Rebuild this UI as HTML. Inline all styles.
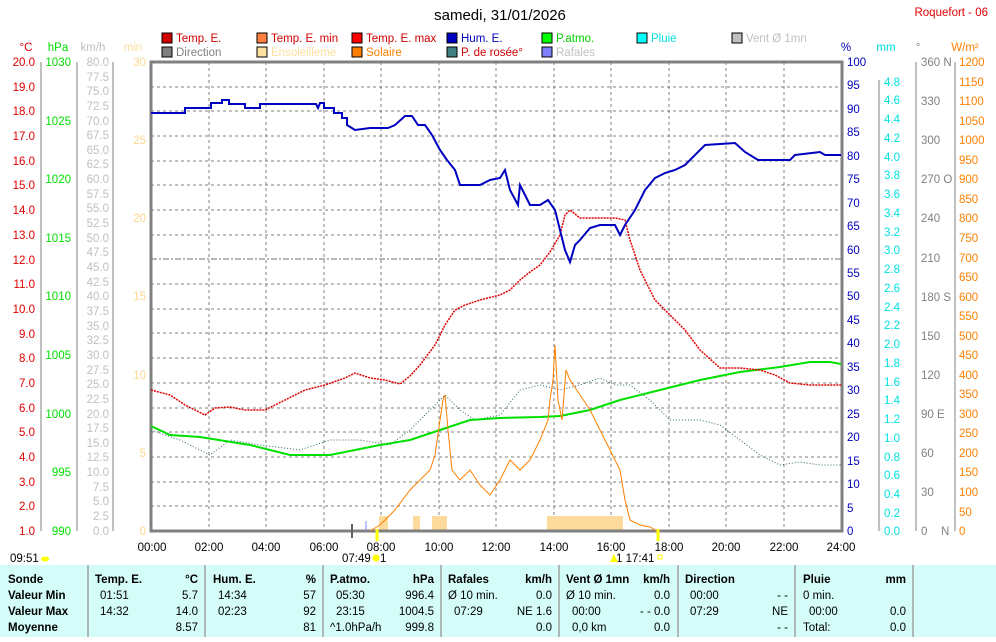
<!DOCTYPE html>
<html><head><meta charset="utf-8"><style>
body{margin:0;background:#fff;width:996px;height:637px;overflow:hidden;font-family:"Liberation Sans",sans-serif}
svg text{font-family:"Liberation Sans",sans-serif}
</style></head><body>
<svg width="996" height="637" xmlns="http://www.w3.org/2000/svg" font-size="11.5">
<text x="500" y="20" font-size="15" text-anchor="middle">samedi, 31/01/2026</text>
<text x="988" y="16" font-size="11.5" fill="#e00000" text-anchor="end">Roquefort - 06</text>
<g font-size="11.5">
<rect x="162" y="33" width="10" height="10" fill="#d00000" stroke="#000"/><text x="176" y="42" fill="#d00000">Temp. E.</text>
<rect x="257" y="33" width="10" height="10" fill="#ff8040" stroke="#000"/><text x="271" y="42" fill="#d00000">Temp. E. min</text>
<rect x="352" y="33" width="10" height="10" fill="#ff0000" stroke="#000"/><text x="366" y="42" fill="#d00000">Temp. E. max</text>
<rect x="447" y="33" width="10" height="10" fill="#0000c0" stroke="#000"/><text x="461" y="42" fill="#0000c0">Hum. E.</text>
<rect x="542" y="33" width="10" height="10" fill="#00ff00" stroke="#000"/><text x="556" y="42" fill="#00d000">P.atmo.</text>
<rect x="637" y="33" width="10" height="10" fill="#00ffff" stroke="#000"/><text x="651" y="42" fill="#00e0e0">Pluie</text>
<rect x="732" y="33" width="10" height="10" fill="#c0c0c0" stroke="#000"/><text x="746" y="42" fill="#c0c0c0">Vent Ø 1mn</text>
<rect x="162" y="47" width="10" height="10" fill="#808080" stroke="#000"/><text x="176" y="56" fill="#808080">Direction</text>
<rect x="257" y="47" width="10" height="10" fill="#fde0a0" stroke="#000"/><text x="271" y="56" fill="#fde0a0">Ensoleilleme</text>
<rect x="352" y="47" width="10" height="10" fill="#ff8000" stroke="#000"/><text x="366" y="56" fill="#ff8000">Solaire</text>
<rect x="447" y="47" width="10" height="10" fill="#408080" stroke="#000"/><text x="461" y="56" fill="#d00000">P. de rosée°</text>
<rect x="542" y="47" width="10" height="10" fill="#8080ff" stroke="#000"/><text x="556" y="56" fill="#c0c0c0">Rafales</text>
</g>
<text x="26" y="51" fill="#e00000" text-anchor="middle">°C</text>
<text x="58" y="51" fill="#00e000" text-anchor="middle">hPa</text>
<text x="93" y="51" fill="#c0c0c0" text-anchor="middle">km/h</text>
<text x="133" y="51" fill="#fde0a0" text-anchor="middle">min</text>
<text x="846" y="51" fill="#0000c0" text-anchor="middle">%</text>
<text x="886" y="51" fill="#00e0e0" text-anchor="middle">mm</text>
<text x="918" y="51" fill="#808080" text-anchor="middle">°</text>
<text x="965" y="51" fill="#ff8000" text-anchor="middle">W/m²</text>
<g stroke="#808080" stroke-width="1" stroke-dasharray="3,3">
<line x1="209" y1="62" x2="209" y2="531"/><line x1="266" y1="62" x2="266" y2="531"/><line x1="324" y1="62" x2="324" y2="531"/><line x1="381" y1="62" x2="381" y2="531"/><line x1="439" y1="62" x2="439" y2="531"/><line x1="496" y1="62" x2="496" y2="531"/><line x1="554" y1="62" x2="554" y2="531"/><line x1="611" y1="62" x2="611" y2="531"/><line x1="669" y1="62" x2="669" y2="531"/><line x1="726" y1="62" x2="726" y2="531"/><line x1="784" y1="62" x2="784" y2="531"/>
<line x1="151" y1="87" x2="841" y2="87"/><line x1="151" y1="111" x2="841" y2="111"/><line x1="151" y1="136" x2="841" y2="136"/><line x1="151" y1="161" x2="841" y2="161"/><line x1="151" y1="185" x2="841" y2="185"/><line x1="151" y1="210" x2="841" y2="210"/><line x1="151" y1="235" x2="841" y2="235"/><line x1="151" y1="284" x2="841" y2="284"/><line x1="151" y1="309" x2="841" y2="309"/><line x1="151" y1="333" x2="841" y2="333"/><line x1="151" y1="358" x2="841" y2="358"/><line x1="151" y1="383" x2="841" y2="383"/><line x1="151" y1="408" x2="841" y2="408"/><line x1="151" y1="432" x2="841" y2="432"/><line x1="151" y1="457" x2="841" y2="457"/><line x1="151" y1="482" x2="841" y2="482"/><line x1="151" y1="506" x2="841" y2="506"/>
</g>
<line x1="151" y1="259" x2="841" y2="259" stroke="#707070" stroke-dasharray="6,2,2,2"/>
<g fill="#fddb9c"><rect x="379" y="516" width="9" height="15"/><rect x="413" y="516" width="7" height="15"/><rect x="432" y="516" width="15" height="15"/><rect x="547" y="516" width="76" height="15"/></g>
<path d="M151,531 V62 H842 V531 Z" fill="none" stroke="#808080" stroke-width="3"/>
<polyline fill="none" stroke="#306868" stroke-width="1" stroke-dasharray="1,2" points="151,430 180,440 210,455 230,440 260,445 300,450 330,440 360,440 390,445 410,430 430,410 445,395 460,410 475,420 500,415 520,390 540,385 560,390 580,385 600,378 615,385 630,385 650,400 670,420 700,420 720,425 740,440 760,455 780,465 800,462 820,465 841,465"/>
<polyline fill="none" stroke="#00e000" stroke-width="2" points="151,426 170,435 200,437 250,445 290,455 330,455 380,445 410,440 440,430 470,420 500,418 540,417 560,416 590,410 620,400 660,390 700,380 740,372 780,367 810,362 830,362 841,364"/>
<polyline fill="none" stroke="#ff8000" stroke-width="1" points="370,531 380,525 395,510 410,490 420,480 430,470 435,455 440,420 443,400 445,395 448,430 452,470 460,480 470,470 480,485 490,495 500,480 510,460 520,470 530,460 540,440 548,420 550,400 553,380 555,345 558,400 562,420 566,370 570,380 580,395 590,410 600,430 610,450 620,470 625,500 630,520 640,525 650,527 657,531"/>
<polyline fill="none" stroke="#e00000" stroke-width="1.5" stroke-dasharray="2,1" points="151,390 170,395 185,405 205,415 215,408 230,407 245,410 265,410 285,400 305,390 325,385 345,378 355,373 370,378 385,380 400,384 410,376 420,365 435,345 445,325 455,310 465,305 480,300 500,295 510,290 520,280 530,272 540,265 550,252 560,235 565,215 570,210 580,218 600,218 615,218 625,220 630,240 640,270 655,300 670,315 685,330 700,350 720,368 740,368 760,370 775,375 790,383 810,385 841,385"/>
<polyline fill="none" stroke="#0000c0" stroke-width="2" points="151,113 185,113 185,108 211,108 211,103 222,103 222,100 229,100 229,104 245,104 245,108 260,108 260,104 316,104 318,108 320,103 324,103 324,108 334,108 334,113 342,113 342,118 347,118 347,125 355,130 370,128 388,128 395,125 405,116 412,116 418,125 425,125 432,135 440,150 447,160 455,170 460,185 470,185 480,185 490,180 500,178 505,170 510,190 518,205 520,185 525,195 530,205 540,205 548,200 555,210 560,230 565,250 570,262 575,245 580,240 590,228 600,225 615,225 620,235 625,225 635,210 645,190 655,178 665,173 675,170 685,165 695,155 705,145 735,143 745,152 758,160 790,160 795,155 820,152 825,155 841,155"/>
<line x1="352" y1="524" x2="352" y2="538" stroke="#606060" stroke-width="2"/>
<line x1="366" y1="521" x2="366" y2="531" stroke="#8080ff" stroke-width="1"/>
<line x1="377" y1="529" x2="377" y2="541" stroke="#ffff00" stroke-width="3"/>
<line x1="658" y1="529" x2="658" y2="541" stroke="#ffff00" stroke-width="3"/>
<g stroke="#808080" fill="none"><line x1="41" y1="62" x2="41" y2="531"/><line x1="77" y1="62" x2="77" y2="531"/><line x1="113" y1="62" x2="113" y2="531"/><line x1="879" y1="80" x2="879" y2="531"/><line x1="916" y1="62" x2="916" y2="531"/><line x1="955" y1="62" x2="955" y2="531"/></g>
<g fill="#e00000" text-anchor="end">
<text x="35" y="66">20.0</text><text x="35" y="91">19.0</text><text x="35" y="115">18.0</text><text x="35" y="140">17.0</text><text x="35" y="165">16.0</text><text x="35" y="189">15.0</text><text x="35" y="214">14.0</text><text x="35" y="239">13.0</text><text x="35" y="264">12.0</text><text x="35" y="288">11.0</text><text x="35" y="313">10.0</text><text x="35" y="338">9.0</text><text x="35" y="362">8.0</text><text x="35" y="387">7.0</text><text x="35" y="412">6.0</text><text x="35" y="436">5.0</text><text x="35" y="461">4.0</text><text x="35" y="486">3.0</text><text x="35" y="510">2.0</text><text x="35" y="535">1.0</text>
</g>
<g fill="#00e000" text-anchor="end">
<text x="71" y="66">1030</text><text x="71" y="125">1025</text><text x="71" y="183">1020</text><text x="71" y="242">1015</text><text x="71" y="300">1010</text><text x="71" y="359">1005</text><text x="71" y="418">1000</text><text x="71" y="476">995</text><text x="71" y="535">990</text>
</g>
<g fill="#c0c0c0" text-anchor="end">
<text x="109" y="66">80.0</text><text x="109" y="81">77.5</text><text x="109" y="95">75.0</text><text x="109" y="110">72.5</text><text x="109" y="125">70.0</text><text x="109" y="139">67.5</text><text x="109" y="154">65.0</text><text x="109" y="168">62.5</text><text x="109" y="183">60.0</text><text x="109" y="198">57.5</text><text x="109" y="212">55.0</text><text x="109" y="227">52.5</text><text x="109" y="242">50.0</text><text x="109" y="256">47.5</text><text x="109" y="271">45.0</text><text x="109" y="286">42.5</text><text x="109" y="300">40.0</text><text x="109" y="315">37.5</text><text x="109" y="330">35.0</text><text x="109" y="344">32.5</text><text x="109" y="359">30.0</text><text x="109" y="374">27.5</text><text x="109" y="388">25.0</text><text x="109" y="403">22.5</text><text x="109" y="418">20.0</text><text x="109" y="432">17.5</text><text x="109" y="447">15.0</text><text x="109" y="461">12.5</text><text x="109" y="476">10.0</text><text x="109" y="491">7.5</text><text x="109" y="505">5.0</text><text x="109" y="520">2.5</text><text x="109" y="535">0.0</text>
</g>
<g fill="#fdd890" text-anchor="end">
<text x="146" y="66">30</text><text x="146" y="144">25</text><text x="146" y="222">20</text><text x="146" y="300">15</text><text x="146" y="379">10</text><text x="146" y="457">5</text><text x="146" y="535">0</text>
</g>
<g fill="#0000c0">
<text x="847" y="66">100</text><text x="847" y="89">95</text><text x="847" y="113">90</text><text x="847" y="136">85</text><text x="847" y="160">80</text><text x="847" y="183">75</text><text x="847" y="207">70</text><text x="847" y="230">65</text><text x="847" y="254">60</text><text x="847" y="277">55</text><text x="847" y="300">50</text><text x="847" y="324">45</text><text x="847" y="347">40</text><text x="847" y="371">35</text><text x="847" y="394">30</text><text x="847" y="418">25</text><text x="847" y="441">20</text><text x="847" y="465">15</text><text x="847" y="488">10</text><text x="847" y="512">5</text><text x="847" y="535">0</text>
</g>
<g fill="#00e0e0">
<text x="884" y="86">4.8</text><text x="884" y="104">4.6</text><text x="884" y="123">4.4</text><text x="884" y="142">4.2</text><text x="884" y="161">4.0</text><text x="884" y="179">3.8</text><text x="884" y="198">3.6</text><text x="884" y="217">3.4</text><text x="884" y="236">3.2</text><text x="884" y="254">3.0</text><text x="884" y="273">2.8</text><text x="884" y="292">2.6</text><text x="884" y="311">2.4</text><text x="884" y="329">2.2</text><text x="884" y="348">2.0</text><text x="884" y="367">1.8</text><text x="884" y="386">1.6</text><text x="884" y="404">1.4</text><text x="884" y="423">1.2</text><text x="884" y="442">1.0</text><text x="884" y="461">0.8</text><text x="884" y="479">0.6</text><text x="884" y="498">0.4</text><text x="884" y="517">0.2</text><text x="884" y="535">0.0</text>
</g>
<g fill="#808080">
<text x="921" y="66">360 N</text><text x="921" y="105">330</text><text x="921" y="144">300</text><text x="921" y="183">270 O</text><text x="921" y="222">240</text><text x="921" y="262">210</text><text x="921" y="301">180 S</text><text x="921" y="340">150</text><text x="921" y="379">120</text><text x="921" y="418">90  E</text><text x="921" y="457">60</text><text x="921" y="496">30</text><text x="921" y="535">0</text><text x="941" y="535">N</text>
</g>
<g fill="#ff8000">
<text x="959" y="66">1200</text><text x="959" y="86">1150</text><text x="959" y="105">1100</text><text x="959" y="125">1050</text><text x="959" y="144">1000</text><text x="959" y="164">950</text><text x="959" y="183">900</text><text x="959" y="203">850</text><text x="959" y="222">800</text><text x="959" y="242">750</text><text x="959" y="262">700</text><text x="959" y="281">650</text><text x="959" y="301">600</text><text x="959" y="320">550</text><text x="959" y="340">500</text><text x="959" y="359">450</text><text x="959" y="379">400</text><text x="959" y="398">350</text><text x="959" y="418">300</text><text x="959" y="437">250</text><text x="959" y="457">200</text><text x="959" y="476">150</text><text x="959" y="496">100</text><text x="959" y="516">50</text><text x="959" y="535">0</text>
</g>
<g text-anchor="middle" fill="#000">
<text x="152" y="551">00:00</text><text x="209" y="551">02:00</text><text x="266" y="551">04:00</text><text x="324" y="551">06:00</text><text x="381" y="551">08:00</text><text x="439" y="551">10:00</text><text x="496" y="551">12:00</text><text x="554" y="551">14:00</text><text x="611" y="551">16:00</text><text x="669" y="551">18:00</text><text x="726" y="551">20:00</text><text x="784" y="551">22:00</text><text x="841" y="551">24:00</text>
</g>
<text x="10" y="562">09:51</text><ellipse cx="45" cy="559" rx="4" ry="2.5" fill="#ffff00"/>
<text x="342" y="562">07:49</text><circle cx="376" cy="558" r="3.5" fill="#ffff00"/><text x="380" y="562">1</text>
<text x="616" y="562">1  17:41</text><path d="M610,562 L614,554 L618,562Z" fill="#ffff00"/><rect x="658" y="555" width="4" height="4" fill="none" stroke="#ffff00"/>
<rect x="0" y="565" width="996" height="72" fill="#d4fcf8"/>
<g stroke="#a0a0a0" stroke-width="1.5"><line x1="88" y1="565" x2="88" y2="637"/><line x1="205" y1="565" x2="205" y2="637"/><line x1="323" y1="565" x2="323" y2="637"/><line x1="441" y1="565" x2="441" y2="637"/><line x1="559" y1="565" x2="559" y2="637"/><line x1="678" y1="565" x2="678" y2="637"/><line x1="795" y1="565" x2="795" y2="637"/><line x1="913" y1="565" x2="913" y2="637"/></g>
<g font-size="11.5" font-weight="bold">
<text x="8" y="583">Sonde</text><text x="8" y="599">Valeur Min</text><text x="8" y="615">Valeur Max</text><text x="8" y="631">Moyenne</text>
<text x="95" y="583">Temp. E.</text><text x="198" y="583" text-anchor="end">°C</text>
<text x="213" y="583">Hum. E.</text><text x="316" y="583" text-anchor="end">%</text>
<text x="330" y="583">P.atmo.</text><text x="434" y="583" text-anchor="end">hPa</text>
<text x="448" y="583">Rafales</text><text x="552" y="583" text-anchor="end">km/h</text>
<text x="566" y="583">Vent Ø 1mn</text><text x="670" y="583" text-anchor="end">km/h</text>
<text x="685" y="583">Direction</text>
<text x="803" y="583">Pluie</text><text x="906" y="583" text-anchor="end">mm</text>
</g>
<g font-size="11.5">
<text x="100" y="599">01:51</text><text x="198" y="599" text-anchor="end">5.7</text>
<text x="100" y="615">14:32</text><text x="198" y="615" text-anchor="end">14.0</text>
<text x="198" y="631" text-anchor="end">8.57</text>
<text x="218" y="599">14:34</text><text x="316" y="599" text-anchor="end">57</text>
<text x="218" y="615">02:23</text><text x="316" y="615" text-anchor="end">92</text>
<text x="316" y="631" text-anchor="end">81</text>
<text x="336" y="599">05:30</text><text x="434" y="599" text-anchor="end">996.4</text>
<text x="336" y="615">23:15</text><text x="434" y="615" text-anchor="end">1004.5</text>
<text x="330" y="631">^1.0hPa/h</text><text x="434" y="631" text-anchor="end">999.8</text>
<text x="448" y="599">Ø 10 min.</text><text x="552" y="599" text-anchor="end">0.0</text>
<text x="454" y="615">07:29</text><text x="552" y="615" text-anchor="end">NE 1.6</text>
<text x="552" y="631" text-anchor="end">0.0</text>
<text x="566" y="599">Ø 10 min.</text><text x="670" y="599" text-anchor="end">0.0</text>
<text x="572" y="615">00:00</text><text x="670" y="615" text-anchor="end">- - 0.0</text>
<text x="572" y="631">0,0 km</text><text x="670" y="631" text-anchor="end">0.0</text>
<text x="690" y="599">00:00</text><text x="788" y="599" text-anchor="end">- -</text>
<text x="690" y="615">07:29</text><text x="788" y="615" text-anchor="end">NE</text>
<text x="788" y="631" text-anchor="end">- -</text>
<text x="803" y="599">0 min.</text>
<text x="809" y="615">00:00</text><text x="906" y="615" text-anchor="end">0.0</text>
<text x="803" y="631">Total:</text><text x="906" y="631" text-anchor="end">0.0</text>
</g>
</svg>
</body></html>
